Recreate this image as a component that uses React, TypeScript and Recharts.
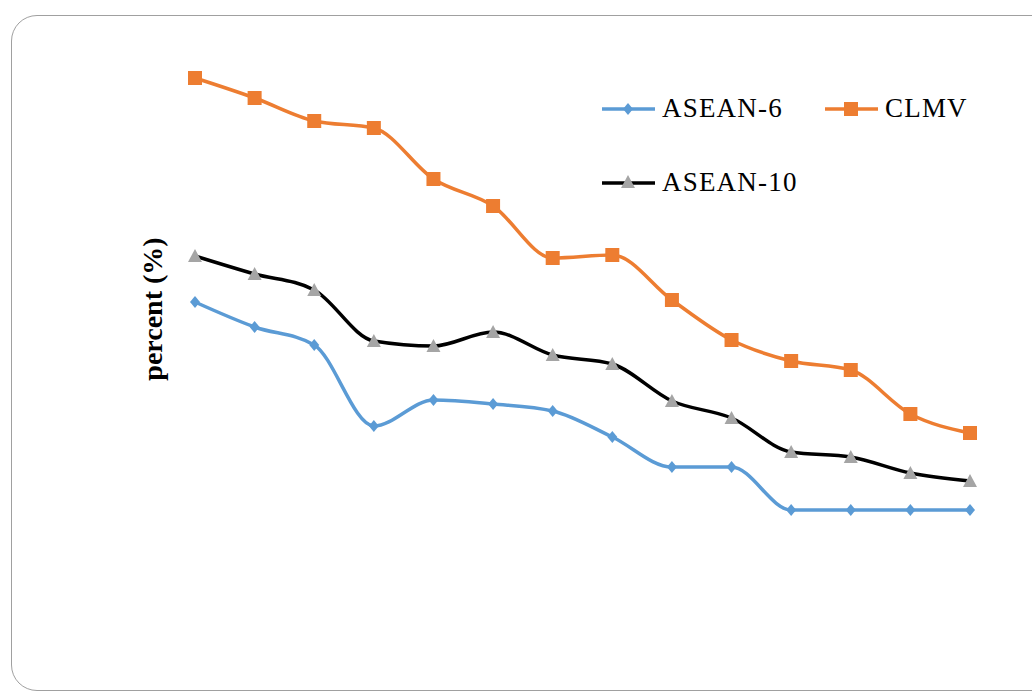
import React from 'react';
import { LineChart, Line, XAxis, YAxis } from 'recharts';

const periods = ['1', '2', '3', '4', '5', '6', '7', '8', '9', '10', '11', '12', '13', '14'];
const asean6 = [33.8, 31.3, 29.5, 21.4, 24.0, 23.6, 22.9, 20.3, 17.3, 17.3, 13.0, 13.0, 13.0, 13.0];
const clmv = [56.2, 54.2, 51.9, 51.2, 46.1, 43.4, 38.2, 38.5, 34.0, 30.0, 27.9, 27.0, 22.6, 20.7];
const asean10 = [38.4, 36.6, 35.0, 29.9, 29.4, 30.8, 28.5, 27.6, 23.9, 22.2, 18.8, 18.3, 16.7, 15.9];

const BLUE = '#5B9BD5';
const ORANGE = '#ED7D31';
const GREY = '#A5A5A5';
const FONT = '"Liberation Serif", "DejaVu Serif", serif';

const rows = periods.map((p, i) => ({
  x: i,
  label: p,
  asean6: asean6[i],
  clmv: clmv[i],
  asean10: asean10[i],
}));

const Diamond = (props: any) => {
  const { cx, cy } = props;
  if (cx == null || cy == null) return null;
  return <path d={`M${cx},${cy - 6}L${cx + 5},${cy}L${cx},${cy + 6}L${cx - 5},${cy}Z`} fill={BLUE} />;
};
const Square = (props: any) => {
  const { cx, cy } = props;
  if (cx == null || cy == null) return null;
  return <rect x={cx - 7} y={cy - 7} width={14} height={14} fill={ORANGE} />;
};
const Triangle = (props: any) => {
  const { cx, cy } = props;
  if (cx == null || cy == null) return null;
  return <path d={`M${cx},${cy - 7}L${cx + 7},${cy + 6}L${cx - 7},${cy + 6}Z`} fill={GREY} />;
};

// legend drawn as its own svg block, positioned over the chart
const LegendBox = () => {
  const item = (x: number, y: number, color: string, marker: React.ReactNode, text: string) => (
    <g>
      <line x1={x} y1={y} x2={x + 53} y2={y} stroke={color} strokeWidth={3.5} />
      {marker}
      <text x={x + 60} y={y + 8} fontSize={27} letterSpacing={1.2} fontFamily={FONT} fill="#000">{text}</text>
    </g>
  );
  return (
    <svg width={430} height={130} style={{ position: 'absolute', left: 590, top: 80 }}>
      {item(12, 29, BLUE, <Diamond cx={38} cy={29} />, 'ASEAN-6')}
      {item(235, 29, ORANGE, <Square cx={261} cy={29} />, 'CLMV')}
      {item(12, 103, '#000', <Triangle cx={38} cy={102} />, 'ASEAN-10')}
    </svg>
  );
};

export default function App() {
  return (
    <div style={{ position: 'fixed', left: 0, top: 0, width: 1032, height: 693, background: '#fff', overflow: 'hidden' }}>
      <div
        style={{
          position: 'absolute', left: 11, top: 15, width: 1060, height: 676,
          border: '1px solid #A0A0A0', borderRadius: 26, boxSizing: 'border-box',
        }}
      />
      <LineChart width={1032} height={693} data={rows} margin={{ top: 40, right: 62, left: 195, bottom: 53 }}>
        <XAxis dataKey="x" type="number" domain={[0, 13]} hide />
        <YAxis domain={[0, 60]} hide />
        <Line type="monotone" dataKey="asean6" stroke={BLUE} strokeWidth={3.5} dot={<Diamond />} activeDot={false} isAnimationActive={false} />
        <Line type="monotone" dataKey="clmv" stroke={ORANGE} strokeWidth={3.5} dot={<Square />} activeDot={false} isAnimationActive={false} />
        <Line type="monotone" dataKey="asean10" stroke="#000" strokeWidth={3.5} dot={<Triangle />} activeDot={false} isAnimationActive={false} />
      </LineChart>
      <LegendBox />
      <div
        style={{
          position: 'absolute', left: 153, top: 309, transform: 'translate(-50%, -50%) rotate(-90deg)',
          fontFamily: FONT, fontWeight: 'bold', fontSize: 28, whiteSpace: 'nowrap', color: '#000',
        }}
      >
        percent (%)
      </div>
    </div>
  );
}
